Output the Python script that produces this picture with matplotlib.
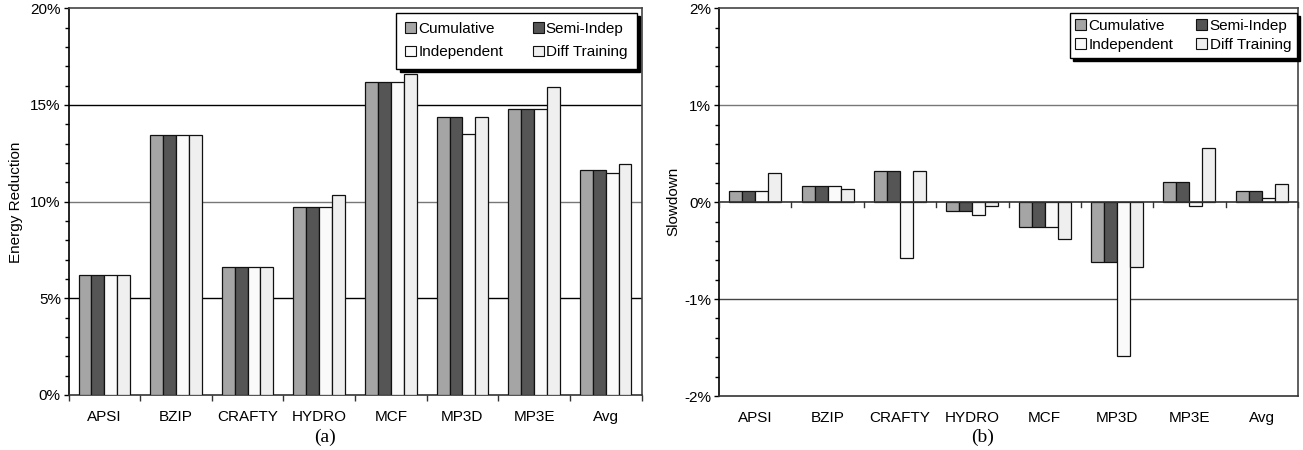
import matplotlib
matplotlib.use("Agg")
import matplotlib.pyplot as plt
import numpy as np
from matplotlib.ticker import MultipleLocator, FuncFormatter

categories = ["APSI", "BZIP", "CRAFTY", "HYDRO", "MCF", "MP3D", "MP3E", "Avg"]
series_names = ["Cumulative", "Semi-Indep", "Independent", "Diff Training"]

energy_cumulative = [6.2, 13.47, 6.64, 9.71, 16.2, 14.4, 14.81, 11.64]
energy_semi = [6.2, 13.47, 6.64, 9.71, 16.2, 14.4, 14.81, 11.64]
energy_indep = [6.2, 13.47, 6.64, 9.71, 16.2, 13.52, 14.81, 11.5]
energy_diff = [6.2, 13.47, 6.64, 10.36, 16.62, 14.4, 15.95, 11.97]

slow_cumulative = [0.12, 0.17, 0.32, -0.09, -0.255, -0.62, 0.21, 0.117]
slow_semi = [0.12, 0.17, 0.32, -0.09, -0.255, -0.62, 0.21, 0.117]
slow_indep = [0.12, 0.17, -0.58, -0.13, -0.255, -1.59, -0.04, 0.04]
slow_diff = [0.30, 0.14, 0.32, -0.04, -0.38, -0.67, 0.56, 0.19]

colors = ["#a5a5a5", "#555555", "#fafafa", "#efefef"]

plt.rcParams["font.family"] = ["Liberation Sans", "DejaVu Sans"]

W, H = 1303, 450
fig = plt.figure(figsize=(W / 100, H / 100), dpi=100)
ax1 = fig.add_axes([68.5/W, 1-395/H, (641.5-68.5)/W, (395-8.3)/H])
ax2 = fig.add_axes([719/W, 1-396/H, (1298-719)/W, (396-8.3)/H])

x = np.arange(len(categories))
bw = 0.18
offsets = (np.arange(4) - 1.5) * bw


def draw(ax, data, ylim, major, minor, grid_colors, leg_anchor, colsp, lblsp, bpad):
    handles = []
    for i, (vals, c) in enumerate(zip(data, colors)):
        h = ax.bar(x + offsets[i], vals, bw, color=c, edgecolor="#111111",
                   linewidth=0.9, label=series_names[i], zorder=3)
        handles.append(h)
    ax.set_xlim(-0.5, len(categories) - 0.5)
    ax.set_ylim(*ylim)
    ax.yaxis.set_major_locator(MultipleLocator(major))
    ax.yaxis.set_minor_locator(MultipleLocator(minor))
    ax.yaxis.set_major_formatter(FuncFormatter(lambda v, p: f"{v:.0f}%"))
    for v, gc in grid_colors:
        ax.axhline(v, color=gc, linewidth=1.0, zorder=1)
    ax.set_xticks(x)
    ax.set_xticklabels(categories)
    ax.set_xticks(np.arange(len(categories) + 1) - 0.5, minor=True)
    ax.tick_params(axis="x", which="major", length=0, pad=11, labelsize=11)
    ax.tick_params(axis="x", which="minor", length=4, width=1, color="#333333")
    ax.tick_params(axis="y", which="major", length=3.5, width=1, labelsize=11, pad=2)
    ax.tick_params(axis="y", which="minor", length=3, width=1)
    for s in ["top", "right"]:
        ax.spines[s].set_color("#444444")
        ax.spines[s].set_linewidth(1.2)
    ax.spines["left"].set_color("black")
    ax.spines["left"].set_linewidth(1.2)
    ax.spines["bottom"].set_color("#333333")
    ax.spines["bottom"].set_linewidth(1.2)
    order = [0, 2, 1, 3]
    leg = ax.legend([handles[i] for i in order], [series_names[i] for i in order],
                    ncol=2, loc="upper right",
                    bbox_to_anchor=(leg_anchor[0] / W, 1 - leg_anchor[1] / H),
                    bbox_transform=fig.transFigure,
                    frameon=True, fancybox=False,
                    shadow={"color": "black", "alpha": 1.0, "ox": 2.5, "oy": -2.5},
                    edgecolor="black", fontsize=11, handlelength=0.72,
                    handleheight=0.72, handletextpad=0.15, columnspacing=colsp,
                    borderpad=bpad, labelspacing=lblsp, borderaxespad=0)
    leg.get_frame().set_linewidth(1.0)
    leg.set_zorder(5)
    for h in leg.legend_handles:
        h.set_linewidth(0.8)


draw(ax1, [energy_cumulative, energy_semi, energy_indep, energy_diff],
     (0, 20), 5, 1,
     [(5, "black"), (10, "#777777"), (15, "black")], (636.5, 12.7), 1.9, 0.62, 0.6)
draw(ax2, [slow_cumulative, slow_semi, slow_indep, slow_diff],
     (-2, 2), 1, 0.2,
     [(1, "#777777"), (-1, "#444444")], (1297, 12.7), 1.5, 0.35, 0.38)

# zero axis line in panel (b) with category separator ticks
ax2.axhline(0, color="#333333", linewidth=1.2, zorder=4)
for xv in np.arange(len(categories) + 1) - 0.5:
    ax2.plot([xv, xv], [0, -0.045], color="#333333", linewidth=1, zorder=4,
             clip_on=False)
ax2.tick_params(axis="x", which="minor", length=0)

fig.text(16/W, 1 - 202/H, "Energy Reduction", rotation=90, ha="center",
         va="center", fontsize=11)
fig.text(673/W, 1 - 201/H, "Slowdown", rotation=90, ha="center",
         va="center", fontsize=11)

fig.text(325/W, 1 - 437/H, "(a)", ha="center", va="center",
         fontsize=14, family=["Liberation Serif", "DejaVu Serif"])
fig.text(983/W, 1 - 437/H, "(b)", ha="center", va="center",
         fontsize=14, family=["Liberation Serif", "DejaVu Serif"])

fig.savefig("out.png", dpi=100)
